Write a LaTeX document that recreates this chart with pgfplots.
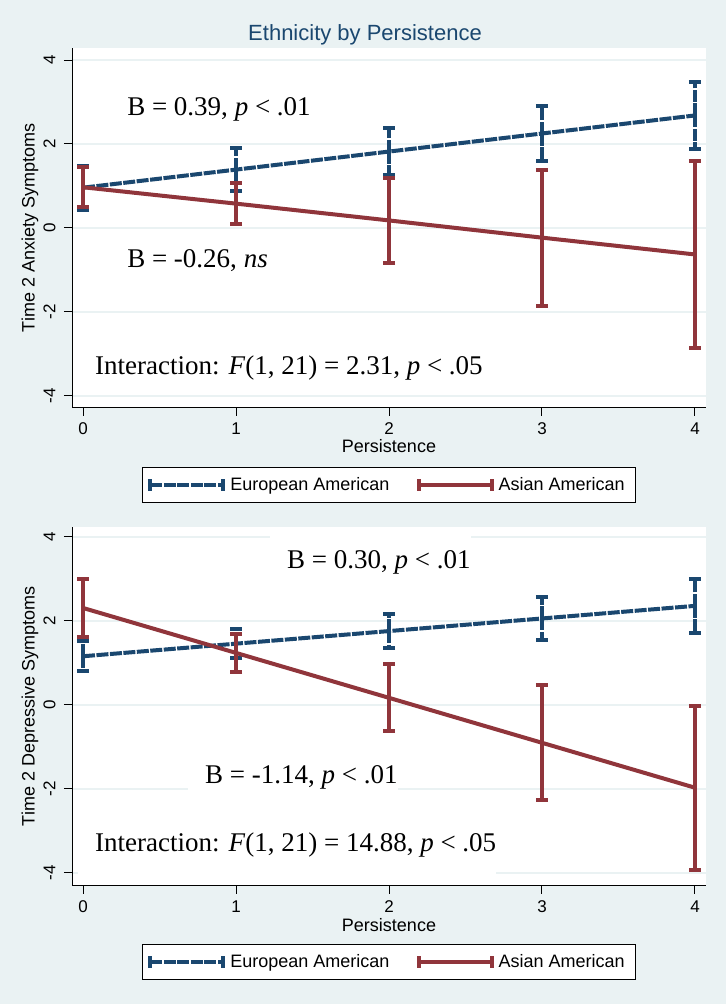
\documentclass[border=0pt]{standalone}
\usepackage{fontspec}
\setmainfont{Liberation Sans}
\newfontfamily\serif{Liberation Serif}
\usepackage{pgfplots}
\pgfplotsset{compat=1.18}
\definecolor{bgc}{RGB}{234,242,243}
\definecolor{navy}{RGB}{26,71,111}
\definecolor{maroon}{RGB}{144,53,59}
\definecolor{gridc}{RGB}{234,242,243}

\pgfplotsset{
  stata/.style={
    scale only axis, width=634bp,
    xmin=-0.072, xmax=4.072,
    axis x line*=bottom, axis y line*=left,
    axis line style={line width=1bp,black,-},
    axis background/.style={fill=white},
    xtick={0,1,2,3,4}, ytick={-4,-2,0,2,4},
    tick align=outside, major tick length=8bp,
    tick style={black,line width=1bp},
    ymajorgrids, grid style={gridc,line width=1.2bp},
    ticklabel style={font=\fontsize{17bp}{19bp}\selectfont},
    /pgf/number format/assume math mode=true,
    yticklabel style={rotate=90,anchor=south},
    yticklabel shift=5bp, xticklabel shift=3bp,
    label style={font=\fontsize{18bp}{20bp}\selectfont},
    xlabel={Persistence},
    ylabel style={at={(axis description cs:-0.0662,0.5)},anchor=center},
    legend image code/.code={
      \draw (0bp,0bp) -- (73bp,0bp);
      \draw[solid] (0bp,-6bp) -- (0bp,6bp);
      \draw[solid] (73bp,-6bp) -- (73bp,6bp);
    },
    legend style={anchor=north, legend columns=2, draw=black, line width=1bp,
      fill=white, font=\fontsize{18bp}{20bp}\selectfont,
      inner xsep=6bp, inner ysep=3bp,
      nodes={inner xsep=5bp, inner ysep=7bp},
      /tikz/every even column/.append style={column sep=22bp}},
  },
  eu/.style={navy, line width=4bp, dash pattern=on 12bp off 1.5bp, mark=none,
    error bars/.cd, y dir=both, y explicit,
    error bar style={line width=4bp, navy, dash pattern=on 12bp off 1.5bp},
    error mark options={rotate=90, mark size=6bp, line width=4bp, solid, navy}},
  as/.style={maroon, line width=4bp, solid, mark=none,
    error bars/.cd, y dir=both, y explicit,
    error bar style={line width=4bp, maroon, solid},
    error mark options={rotate=90, mark size=6bp, line width=4bp, solid, maroon}},
}

\begin{document}
\begin{tikzpicture}
\useasboundingbox (0,0) rectangle (726bp,1004bp);
\fill[bgc] (0,0) rectangle (726bp,1004bp);
\node[anchor=base, font=\fontsize{22bp}{24bp}\selectfont, text=navy] at (365bp,963bp) {Ethnicity by Persistence};

% top panel
\begin{axis}[stata, at={(72bp,596bp)}, anchor=south west, height=360bp,
  ymin=-4.286, ymax=4.286,
  ylabel={Time 2 Anxiety Symptoms},
  xlabel style={at={(axis description cs:0.5,-0.107)},anchor=center},
  legend style={at={(0.5,-0.164)}}]
\addplot[eu] coordinates {(0,0.96) +- (0,0.52) (1,1.39) +- (0,0.52) (2,1.82) +- (0,0.56) (3,2.25) +- (0,0.66) (4,2.68) +- (0,0.79)};
\addlegendentry{European American}
\addplot[as] coordinates {(0,0.97) +- (0,0.48) (1,0.58) +- (0,0.48) (2,0.18) +- (0,1.02) (3,-0.23) +- (0,1.62) (4,-0.63) +- (0,2.23)};
\addlegendentry{Asian American}
\node[anchor=base west, inner sep=0, font=\fontsize{27bp}{30bp}\selectfont\serif] at (axis cs:0.288,2.69) {B = 0.39, \textit{p} < .01};
\node[anchor=base west, inner sep=0, font=\fontsize{27bp}{30bp}\selectfont\serif] at (axis cs:0.288,-0.95) {B = -0.26, \textit{ns}};
\node[anchor=base west, inner sep=0, font=\fontsize{27bp}{30bp}\selectfont\serif] at (axis cs:0.078,-3.5) {Interaction: \textit{F}(1, 21) = 2.31, \textit{p} < .05};
\end{axis}

% bottom panel
\begin{axis}[stata, at={(72bp,118bp)}, anchor=south west, height=359bp,
  ymin=-4.31, ymax=4.238,
  ylabel={Time 2 Depressive Symptoms},
  xlabel style={at={(axis description cs:0.5,-0.1086)},anchor=center},
  legend style={at={(0.5,-0.1616)}}]
\addplot[eu] coordinates {(0,1.16) +- (0,0.36) (1,1.46) +- (0,0.35) (2,1.76) +- (0,0.40) (3,2.06) +- (0,0.51) (4,2.36) +- (0,0.645)};
\addlegendentry{European American}
\addplot[as] coordinates {(0,2.31) +- (0,0.70) (1,1.24) +- (0,0.45) (2,0.17) +- (0,0.80) (3,-0.90) +- (0,1.37) (4,-1.97) +- (0,1.955)};
\addlegendentry{Asian American}
\node[anchor=base west, inner xsep=0, inner ysep=16bp, fill=white, xshift=-17bp, font=\fontsize{27bp}{30bp}\selectfont\serif] at (axis cs:1.333,3.24) {\hspace{17bp}B = 0.30, \textit{p} < .01\hspace{62bp}};
\node[anchor=base west, inner xsep=0, inner ysep=16bp, fill=white, xshift=-17bp, font=\fontsize{27bp}{30bp}\selectfont\serif] at (axis cs:0.797,-1.88) {\hspace{17bp}B = -1.14, \textit{p} < .01\hspace{62bp}};
\node[anchor=base west, inner xsep=0, inner ysep=16bp, fill=white, xshift=-17bp, font=\fontsize{27bp}{30bp}\selectfont\serif] at (axis cs:0.078,-3.5) {\hspace{17bp}Interaction: \textit{F}(1, 21) = 14.88, \textit{p} < .05\hspace{62bp}};
\end{axis}
\end{tikzpicture}
\end{document}
